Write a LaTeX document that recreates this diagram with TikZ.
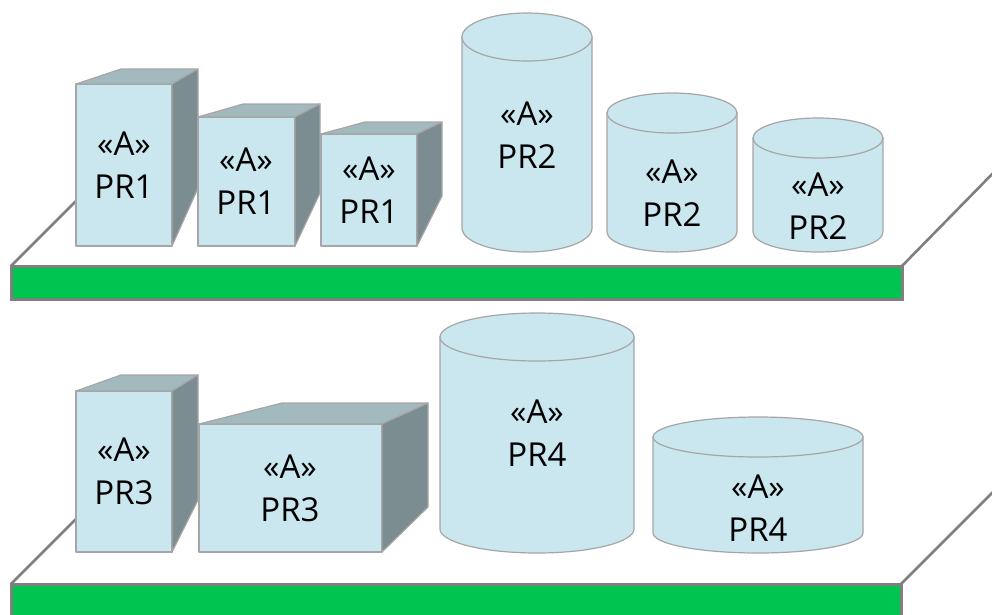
\documentclass[tikz,border=0pt]{standalone}
\usepackage{fontspec}
\setmainfont{Open Sans}
\definecolor{facefront}{RGB}{202,230,238}
\definecolor{facetop}{RGB}{162,185,190}
\definecolor{faceside}{RGB}{123,141,145}
\definecolor{edgegray}{RGB}{166,166,166}
\definecolor{shelfgreen}{RGB}{0,196,80}
\definecolor{shelfgray}{RGB}{127,127,127}
\tikzset{
  front/.style={fill=facefront, draw=edgegray, line width=1.2pt, line join=round},
  topface/.style={fill=facetop, draw=edgegray, line width=1.2pt, line join=round},
  sideface/.style={fill=faceside, draw=edgegray, line width=1.2pt, line join=round},
  cyl/.style={fill=facefront, draw=edgegray, line width=1.2pt},
  board/.style={fill=shelfgreen, draw=shelfgray, line width=3pt},
  edge/.style={draw=shelfgray, line width=2.6pt},
  label/.style={align=center, inner sep=0pt, font=\fontsize{33}{43}\selectfont}
}
% box: front x1,x2,ytop,ybot ; back-left x, back-right x, back top y, back bottom y
\newcommand\drawbox[8]{%
  \path[front] (#1,#3) -- (#2,#3) -- (#2,#4) -- (#1,#4) -- cycle;
  \path[topface] (#1,#3) -- (#5,#7) -- (#6,#7) -- (#2,#3) -- cycle;
  \path[sideface] (#2,#3) -- (#6,#7) -- (#6,#8) -- (#2,#4) -- cycle;
}
% cylinder: centre x, x radius, top centre y, bottom centre y, y radius
\newcommand\drawcyl[5]{%
  \path[cyl] (#1-#2,#3) -- (#1-#2,#4)
     arc[start angle=180, end angle=0, x radius=#2, y radius=#5]
     -- (#1+#2,#3) -- cycle;
  \path[cyl] (#1,#3) ellipse[x radius=#2, y radius=#5];
}
\begin{document}
\begin{tikzpicture}[x=1pt, y=-1pt]
\useasboundingbox (0,0) rectangle (992,614);
\fill[white] (0,0) rectangle (992,614);
\clip (0,0) rectangle (992,614);

% upper shelf
\coordinate (s1l) at (11,266);
\coordinate (s1r) at (902,266);
\coordinate (s1lb) at (110,167);
\coordinate (s1rb) at (1000,166);
\draw[edge] (s1l) -- (s1lb);
\draw[edge] (s1r) -- (s1rb);
\path[board] (11,266) rectangle (902,299);

% lower shelf
\coordinate (s2l) at (11,584);
\coordinate (s2r) at (901,584);
\coordinate (s2lb) at (110,485);
\coordinate (s2rb) at (1000,485);
\draw[edge] (s2l) -- (s2lb);
\draw[edge] (s2r) -- (s2rb);
\path[board] (11,584) rectangle (901,640);

% items on the upper shelf
\drawbox{76}{172}{84}{246}{121}{198}{69}{188}
\drawbox{198}{295}{117}{246}{243}{320}{104}{193}
\drawbox{321}{417}{134}{246}{365}{442}{122}{196}
\drawcyl{527}{65}{37}{228}{24}
\drawcyl{672}{65}{113}{232}{20}
\drawcyl{818}{65}{138}{232}{20}

% items on the lower shelf
\drawbox{76}{172}{391}{552}{121}{198}{375}{500}
\drawbox{199}{382}{424}{552}{282}{428}{403}{507}
\drawcyl{537}{97}{337}{529}{24}
\drawcyl{758}{105}{437}{533}{20}

% labels
\node[label] (b1) at (124,165) {«A»\\PR1};
\node[label] (b2) at (246,181) {«A»\\PR1};
\node[label] (b3) at (369,190) {«A»\\PR1};
\node[label] (c1) at (527,135) {«A»\\PR2};
\node[label] (c2) at (672,193) {«A»\\PR2};
\node[label] (c3) at (818,206) {«A»\\PR2};
\node[label] (b4) at (124,471) {«A»\\PR3};
\node[label] (b5) at (290,488) {«A»\\PR3};
\node[label] (c4) at (537,433) {«A»\\PR4};
\node[label] (c5) at (758,508) {«A»\\PR4};
\end{tikzpicture}
\end{document}
